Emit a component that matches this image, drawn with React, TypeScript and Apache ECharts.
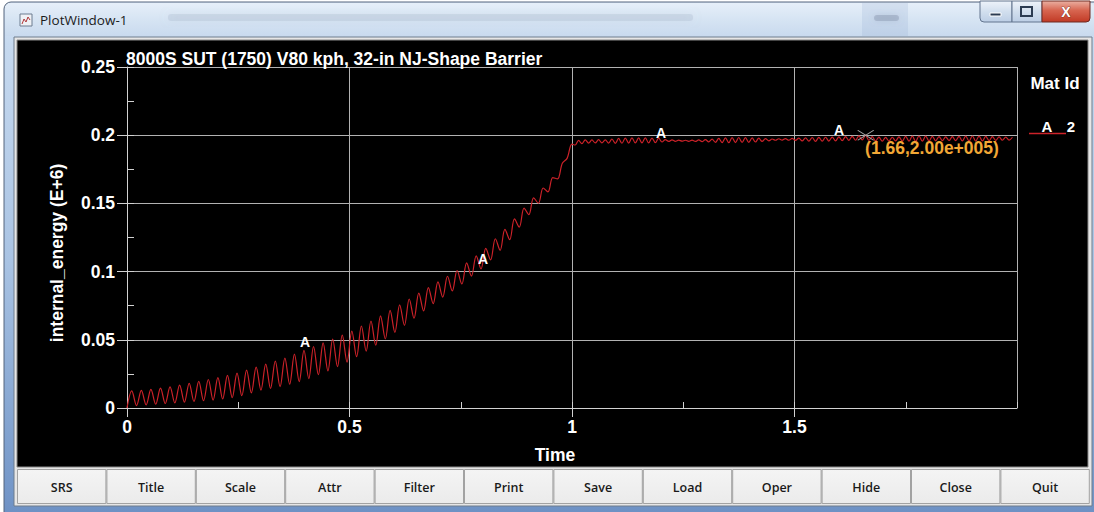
import React, { useEffect, useRef } from "react";
import * as echarts from "echarts";

// ---- plot texts ----
const WINDOW_TITLE = "PlotWindow-1";
const PLOT_TITLE = "8000S SUT (1750) V80 kph, 32-in NJ-Shape Barrier";
const X_NAME = "Time";
const Y_NAME = "internal_energy (E+6)";
const LEGEND_TITLE = "Mat Id";

// ---- axis ranges ----
const X_MIN = 0;
const X_MAX = 2;
const X_STEP = 0.5;
const X_MINOR = 0.25;
const Y_MIN = 0;
const Y_MAX = 0.25;
const Y_STEP = 0.05;
const Y_MINOR = 0.025;

// ---- internal energy of material 2 (E+6) ----
// loading phase, written every 0.01075 time units
const LOAD_STEP = 0.01075;
const LOAD_VALUES = [
  0.0000, 0.0125, 0.0018, 0.0129, 0.0022, 0.0136, 0.0028, 0.0146, 0.0033, 0.0155,
  0.0037, 0.0168, 0.0043, 0.0181, 0.0048, 0.0195, 0.0053, 0.0209, 0.0058, 0.0223,
  0.0066, 0.0239, 0.0076, 0.0255, 0.0090, 0.0277, 0.0111, 0.0300, 0.0131, 0.0322,
  0.0143, 0.0344, 0.0156, 0.0366, 0.0174, 0.0395, 0.0194, 0.0423, 0.0216, 0.0450,
  0.0244, 0.0478, 0.0272, 0.0506, 0.0304, 0.0534, 0.0337, 0.0564, 0.0376, 0.0601,
  0.0417, 0.0638, 0.0460, 0.0676, 0.0507, 0.0715, 0.0554, 0.0756, 0.0606, 0.0799,
  0.0658, 0.0842, 0.0712, 0.0883, 0.0765, 0.0925, 0.0813, 0.0966, 0.0858, 0.1008,
  0.0909, 0.1064, 0.0967, 0.1115, 0.1020, 0.1171, 0.1086, 0.1241, 0.1156, 0.1309,
  0.1234, 0.1386, 0.1326, 0.1466, 0.1417, 0.1541, 0.1501, 0.1613, 0.1584, 0.1689,
  0.1680, 0.1795, 0.1830, 0.1935,
];
// hold phase after the peak, written every 0.0075 time units
const HOLD_STEP = 0.0075;
const HOLD_VALUES = [
  0.1928, 0.1962, 0.1938, 0.1966, 0.1942, 0.1965, 0.1943, 0.1967, 0.1944, 0.1966,
  0.1942, 0.1972, 0.1940, 0.1976, 0.1941, 0.1979, 0.1942, 0.1981, 0.1943, 0.1980,
  0.1944, 0.1981, 0.1943, 0.1979, 0.1945, 0.1978, 0.1950, 0.1968, 0.1954, 0.1966,
  0.1955, 0.1964, 0.1956, 0.1963, 0.1955, 0.1964, 0.1954, 0.1966, 0.1953, 0.1968,
  0.1951, 0.1971, 0.1948, 0.1976, 0.1946, 0.1980, 0.1945, 0.1982, 0.1946, 0.1983,
  0.1947, 0.1982, 0.1948, 0.1980, 0.1950, 0.1978, 0.1954, 0.1975, 0.1959, 0.1972,
  0.1963, 0.1974, 0.1964, 0.1975, 0.1963, 0.1976, 0.1962, 0.1978, 0.1958, 0.1981,
  0.1956, 0.1983, 0.1955, 0.1984, 0.1956, 0.1985, 0.1957, 0.1986, 0.1958, 0.1988,
  0.1960, 0.1990, 0.1962, 0.1992, 0.1963, 0.1995, 0.1965, 0.2000, 0.1962, 0.1990,
  0.1958, 0.1986, 0.1956, 0.1984, 0.1957, 0.1985, 0.1958, 0.1988, 0.1957, 0.1991,
  0.1956, 0.1993, 0.1955, 0.1994, 0.1956, 0.1993, 0.1957, 0.1992, 0.1958, 0.1990,
  0.1960, 0.1988, 0.1961, 0.1989, 0.1960, 0.1991, 0.1958, 0.1993, 0.1957, 0.1994,
  0.1957, 0.1993, 0.1958, 0.1991, 0.1960, 0.1989, 0.1962, 0.1987, 0.1963, 0.1986,
  0.1964, 0.1985,
];

// curve label letter and the material it stands for
const MAT_LABEL = "A";
const MAT_ID = "2";
const MARKER_TIMES = [0.4, 0.8, 1.2, 1.6];
const MARKER_VALUES = [0.0426, 0.104, 0.1958, 0.198];

// picked point
const CURSOR_POINT = [1.66, 0.2];

const BUTTONS = ["SRS", "Title", "Scale", "Attr", "Filter", "Print", "Save", "Load", "Oper", "Hide", "Close", "Quit"];

// ---- styles ----
const FONT = '"Liberation Sans", Arial, sans-serif';
const UI_FONT = '"Open Sans", "Noto Sans", sans-serif';
const AXIS_COLOR = "#d2d2d2";
const GRID_COLOR = "#b2b2b2";
const CURVE_COLOR = "#cc2229";
const CURSOR_COLOR = "#f2a735";

function buildCurve(): number[][] {
  const pts: number[][] = [];
  LOAD_VALUES.forEach((v, i) => pts.push([+(i * LOAD_STEP).toFixed(5), v]));
  const holdStart = (LOAD_VALUES.length - 1) * LOAD_STEP;
  HOLD_VALUES.forEach((v, j) => pts.push([+(holdStart + (j + 1) * HOLD_STEP).toFixed(5), v]));
  return pts;
}

// C-style exponent: 200000 -> "2.00e+005"
function fmtExp(v: number): string {
  const [m, e] = v.toExponential(2).split("e");
  const n = parseInt(e, 10);
  return `${m}e${n < 0 ? "-" : "+"}${String(Math.abs(n)).padStart(3, "0")}`;
}

function vGrad(stops: [number, string][]) {
  return new echarts.graphic.LinearGradient(
    0, 0, 0, 1,
    stops.map(([offset, color]) => ({ offset, color }))
  );
}

function buildChrome(): any[] {
  const els: any[] = [];
  // window frame
  els.push({
    type: "rect", z: -40, silent: true,
    shape: { x: 4, y: 2, width: 1100, height: 520, r: 7 },
    style: {
      fill: vGrad([[0, "#dce8f6"], [0.08, "#c6d9ef"], [0.5, "#a9c3e3"], [0.95, "#7396c8"], [1, "#6a8ec2"]]),
      stroke: "#55657c", lineWidth: 1,
    },
  });
  // caption glass
  els.push({
    type: "rect", z: -39, silent: true,
    shape: { x: 5, y: 3, width: 1090, height: 33, r: [6, 6, 0, 0] },
    style: { fill: vGrad([[0, "#e6eff9"], [0.5, "#d6e4f3"], [1, "#c9daee"]]) },
  });
  // blurred caption text
  els.push({
    type: "rect", z: -38, silent: true,
    shape: { x: 168, y: 14, width: 525, height: 7, r: 3 },
    style: { fill: "rgba(150,165,185,0.22)", shadowBlur: 10, shadowColor: "rgba(150,165,185,0.5)" },
  });
  els.push({
    type: "rect", z: -38, silent: true,
    shape: { x: 862, y: 3, width: 46, height: 33 },
    style: { fill: "rgba(150,175,210,0.22)" },
  });
  els.push({
    type: "rect", z: -37, silent: true,
    shape: { x: 874, y: 15, width: 25, height: 6, r: 3 },
    style: { fill: "rgba(120,135,160,0.35)", shadowBlur: 6, shadowColor: "rgba(120,135,160,0.6)" },
  });
  // window icon
  els.push({
    type: "rect", z: -37, silent: true,
    shape: { x: 20, y: 14, width: 12, height: 12 },
    style: { fill: "#eef1f5", stroke: "#6c7c90", lineWidth: 1 },
  });
  els.push({
    type: "polyline", z: -36, silent: true,
    shape: { points: [[22, 24], [24, 19], [26, 22], [28, 17], [30, 20]] },
    style: { stroke: "#b0383a", lineWidth: 1, fill: "none" },
  });
  els.push({
    type: "text", z: -36, silent: true, x: 40, y: 20,
    style: { text: WINDOW_TITLE, fill: "#1b1b1b", font: `13.5px ${UI_FONT}`, verticalAlign: "middle", align: "left" },
  });
  // caption buttons
  els.push({
    type: "rect", z: -36, silent: true,
    shape: { x: 980, y: 1, width: 32, height: 21, r: [0, 0, 0, 4] },
    style: { fill: vGrad([[0, "#eef3fa"], [0.5, "#d2dfee"], [1, "#bccee5"]]), stroke: "#62748e", lineWidth: 1 },
  });
  els.push({
    type: "rect", z: -35, silent: true,
    shape: { x: 990, y: 13, width: 11, height: 3 },
    style: { fill: "#2c3c52", stroke: "#ffffff", lineWidth: 1 },
  });
  els.push({
    type: "rect", z: -36, silent: true,
    shape: { x: 1012, y: 1, width: 30, height: 21 },
    style: { fill: vGrad([[0, "#eef3fa"], [0.5, "#d2dfee"], [1, "#bccee5"]]), stroke: "#62748e", lineWidth: 1 },
  });
  els.push({
    type: "rect", z: -35, silent: true,
    shape: { x: 1021, y: 7, width: 11, height: 9 },
    style: { fill: "none", stroke: "#2c3c52", lineWidth: 2 },
  });
  els.push({
    type: "rect", z: -36, silent: true,
    shape: { x: 1042, y: 1, width: 48, height: 21, r: [0, 0, 4, 0] },
    style: { fill: vGrad([[0, "#eab0a2"], [0.45, "#d76550"], [1, "#c13a25"]]), stroke: "#6e2a22", lineWidth: 1 },
  });
  els.push({
    type: "text", z: -35, silent: true, x: 1066, y: 11.5,
    style: { text: "X", fill: "#ffffff", font: `bold 14px ${FONT}`, align: "center", verticalAlign: "middle", stroke: "#5a2018", lineWidth: 0.6 },
  });
  // client area border and black plot panel
  els.push({
    type: "rect", z: -34, silent: true,
    shape: { x: 14, y: 37, width: 1078, height: 469 },
    style: { fill: "#e6e6e6", stroke: "#6f7c8c", lineWidth: 1 },
  });
  els.push({
    type: "rect", z: -33, silent: true,
    shape: { x: 17, y: 40, width: 1071, height: 427 },
    style: { fill: "#000000", stroke: "#8a8a8a", lineWidth: 1 },
  });
  // command buttons
  const bx0 = 17;
  const bw = 89.4;
  BUTTONS.forEach((label, i) => {
    const x = bx0 + i * bw;
    els.push({
      type: "rect", z: -32, silent: true,
      shape: { x: x + 0.5, y: 469.5, width: bw - 1, height: 34 },
      style: { fill: vGrad([[0, "#f4f4f4"], [1, "#ebebeb"]]), stroke: "#a2a2a2", lineWidth: 1 },
    });
    els.push({
      type: "text", z: -31, silent: true, x: x + bw / 2, y: 487.5,
      style: { text: label, fill: "#1a1a1a", font: `600 12.5px ${UI_FONT}`, align: "center", verticalAlign: "middle" },
    });
  });
  // plot title
  els.push({
    type: "text", z: 5, silent: true, x: 126, y: 59,
    style: { text: PLOT_TITLE, fill: "#ffffff", font: `bold 17.5px ${FONT}`, align: "left", verticalAlign: "middle" },
  });
  // axis names
  els.push({
    type: "text", z: 5, silent: true, x: 57, y: 253, rotation: Math.PI / 2,
    style: { text: Y_NAME, fill: "#ffffff", font: `bold 17.5px ${FONT}`, align: "center", verticalAlign: "middle" },
  });
  els.push({
    type: "text", z: 5, silent: true, x: 555, y: 455,
    style: { text: X_NAME, fill: "#ffffff", font: `bold 17.5px ${FONT}`, align: "center", verticalAlign: "middle" },
  });
  // material legend
  els.push({
    type: "text", z: 5, silent: true, x: 1055, y: 83,
    style: { text: LEGEND_TITLE, fill: "#ffffff", font: `bold 17px ${FONT}`, align: "center", verticalAlign: "middle" },
  });
  els.push({
    type: "line", z: 5, silent: true,
    shape: { x1: 1029, y1: 133.5, x2: 1066, y2: 133.5 },
    style: { stroke: CURVE_COLOR, lineWidth: 1.5 },
  });
  els.push({
    type: "text", z: 5, silent: true, x: 1047, y: 126,
    style: { text: MAT_LABEL, fill: "#ffffff", font: `bold 15px ${FONT}`, align: "center", verticalAlign: "middle" },
  });
  els.push({
    type: "text", z: 5, silent: true, x: 1071, y: 126,
    style: { text: MAT_ID, fill: "#ffffff", font: `bold 15px ${FONT}`, align: "center", verticalAlign: "middle" },
  });
  return els;
}

function buildOption(): any {
  const labelText = { color: "#ffffff", fontFamily: FONT, fontWeight: "bold", fontSize: 17.5 };
  return {
    animation: false,
    backgroundColor: "#ffffff",
    grid: { left: 127, top: 67, width: 890, height: 341, containLabel: false },
    graphic: { elements: buildChrome() },
    xAxis: [
      {
        type: "value", min: X_MIN, max: X_MAX, interval: X_STEP, position: "bottom",
        axisLine: { show: true, onZero: false, lineStyle: { color: AXIS_COLOR, width: 1 } },
        axisTick: { show: true, inside: false, length: 9, lineStyle: { color: AXIS_COLOR } },
        axisLabel: {
          ...labelText, margin: 10, showMaxLabel: false,
          formatter: (v: number) => (v === X_MAX ? "" : String(v)),
        },
        splitLine: { show: true, lineStyle: { color: GRID_COLOR, width: 1 } },
      },
      {
        type: "value", min: X_MIN, max: X_MAX, interval: X_MINOR, position: "bottom",
        axisLine: { show: false, onZero: false },
        axisTick: { show: true, inside: true, length: 6, lineStyle: { color: AXIS_COLOR } },
        axisLabel: { show: false },
        splitLine: { show: false },
      },
    ],
    yAxis: [
      {
        type: "value", min: Y_MIN, max: Y_MAX, interval: Y_STEP, position: "left",
        axisLine: { show: true, onZero: false, lineStyle: { color: AXIS_COLOR, width: 1 } },
        axisTick: { show: true, inside: false, length: 10, lineStyle: { color: AXIS_COLOR } },
        axisLabel: { ...labelText, margin: 12 },
        splitLine: { show: true, lineStyle: { color: GRID_COLOR, width: 1 } },
      },
      {
        type: "value", min: Y_MIN, max: Y_MAX, interval: Y_MINOR, position: "left",
        axisLine: { show: false, onZero: false },
        axisTick: { show: true, inside: true, length: 7, lineStyle: { color: AXIS_COLOR } },
        axisLabel: { show: false },
        splitLine: { show: false },
      },
    ],
    series: [
      {
        type: "line", xAxisIndex: 0, yAxisIndex: 0, data: buildCurve(),
        symbol: "none", showSymbol: false, silent: true, z: 3, smooth: 0.35,
        lineStyle: { color: CURVE_COLOR, width: 1.2 },
        itemStyle: { color: CURVE_COLOR },
      },
      {
        type: "scatter", xAxisIndex: 0, yAxisIndex: 0,
        data: MARKER_TIMES.map((t, i) => [t, MARKER_VALUES[i]]),
        symbolSize: 1, silent: true, z: 4,
        itemStyle: { color: "rgba(0,0,0,0)", opacity: 1 },
        label: {
          show: true, formatter: MAT_LABEL, position: "top", distance: 0,
          color: "#ffffff", fontFamily: FONT, fontWeight: "bold", fontSize: 14,
        },
      },
      {
        type: "scatter", xAxisIndex: 0, yAxisIndex: 0,
        data: [CURSOR_POINT],
        symbol: "path://M0,0L16,10M16,0L0,10", symbolSize: [16, 10], silent: true, z: 5,
        itemStyle: { color: "rgba(0,0,0,0)", borderColor: "#a8a8a8", borderWidth: 1, opacity: 1 },
        label: {
          show: true, position: [8, 18], align: "left", verticalAlign: "middle",
          formatter: (p: any) => `(${p.value[0].toFixed(2)},${fmtExp(p.value[1] * 1e6)})`,
          color: CURSOR_COLOR, fontFamily: FONT, fontWeight: "bold", fontSize: 17.5,
        },
      },
    ],
  };
}

export default function App() {
  const ref = useRef<HTMLDivElement>(null);
  useEffect(() => {
    if (!ref.current) return;
    const chart = echarts.init(ref.current, undefined, { renderer: "svg" });
    chart.setOption(buildOption());
    return () => chart.dispose();
  }, []);
  return (
    <div
      ref={ref}
      style={{ position: "absolute", left: 0, top: 0, width: 1094, height: 512 }}
    />
  );
}
